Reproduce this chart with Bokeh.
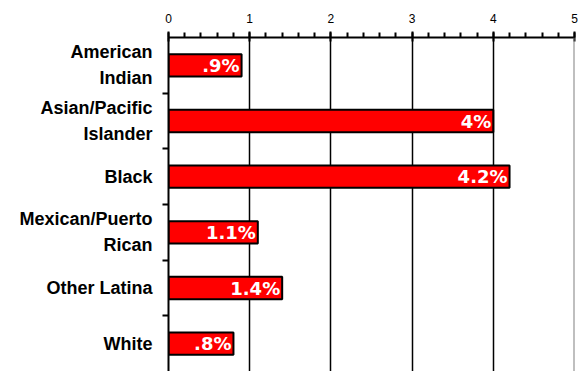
from bokeh.plotting import figure
from bokeh.models import Range1d, FixedTicker, Span, ColumnDataSource
from bokeh.core.properties import value
from bokeh.embed import file_html
from bokeh.resources import INLINE

categories = ["American\nIndian", "Asian/Pacific\nIslander", "Black",
              "Mexican/Puerto\nRican", "Other Latina", "White"]
values = [0.9, 4.0, 4.2, 1.1, 1.4, 0.8]
labels = [".9%", "4%", "4.2%", "1.1%", "1.4%", ".8%"]
x_ticks = [0, 1, 2, 3, 4, 5]

n = len(categories)
centers = [i + 0.5 for i in range(n)]
bounds = [i for i in range(1, n)]

src = ColumnDataSource(dict(y=centers, v=values, lab=labels))

p = figure(width=588, height=371, x_range=Range1d(0, 5), y_range=Range1d(n, 0),
           x_axis_location="above", toolbar_location=None, output_backend="svg",
           min_border_left=168, min_border_right=14, min_border_top=37,
           min_border_bottom=0)
p.outline_line_color = None
p.background_fill_color = "white"

p.xgrid.ticker = FixedTicker(ticks=x_ticks[1:-1])
p.xgrid.grid_line_color = "black"
p.xgrid.grid_line_width = 1.5
p.ygrid.visible = False

p.add_layout(Span(location=x_ticks[-1], dimension="height", line_color="#808080", line_width=2))

xa = p.xaxis[0]
xa.ticker = FixedTicker(ticks=x_ticks, minor_ticks=[k / 5 for k in range(26)])
xa.axis_line_width = 2
xa.axis_line_color = "black"
xa.major_tick_out = 6
xa.major_tick_in = 4
xa.major_tick_line_width = 2
xa.minor_tick_out = 5
xa.minor_tick_in = 0
xa.minor_tick_line_width = 2
xa.major_label_standoff = 9
xa.major_label_text_font = "Liberation Sans"
xa.major_label_text_font_size = "12px"
xa.major_label_text_color = "black"

ya = p.yaxis[0]
ya.ticker = FixedTicker(ticks=centers, minor_ticks=bounds)
ya.major_label_overrides = {c: lab for c, lab in zip(centers, categories)}
ya.axis_line_width = 2
ya.axis_line_color = "black"
ya.major_tick_out = 0
ya.major_tick_in = 0
ya.minor_tick_out = 6
ya.minor_tick_in = 0
ya.minor_tick_line_width = 2
ya.major_label_standoff = 10
ya.major_label_text_font = "Liberation Sans"
ya.major_label_text_font_style = "bold"
ya.major_label_text_font_size = "18px"
ya.major_label_text_line_height = 1.3
ya.major_label_text_color = "black"

p.hbar(y="y", left=0, right="v", height=0.4, source=src,
       fill_color="#FF0000", line_color="black", line_width=2)
p.text(x="v", y="y", text="lab", source=src, text_align="right",
       text_baseline="middle", x_offset=-2, text_color="white",
       text_font=value("DejaVu Sans"), text_font_style="bold",
       text_font_size="18px")

open("out.html", "w").write(file_html(p, INLINE))
